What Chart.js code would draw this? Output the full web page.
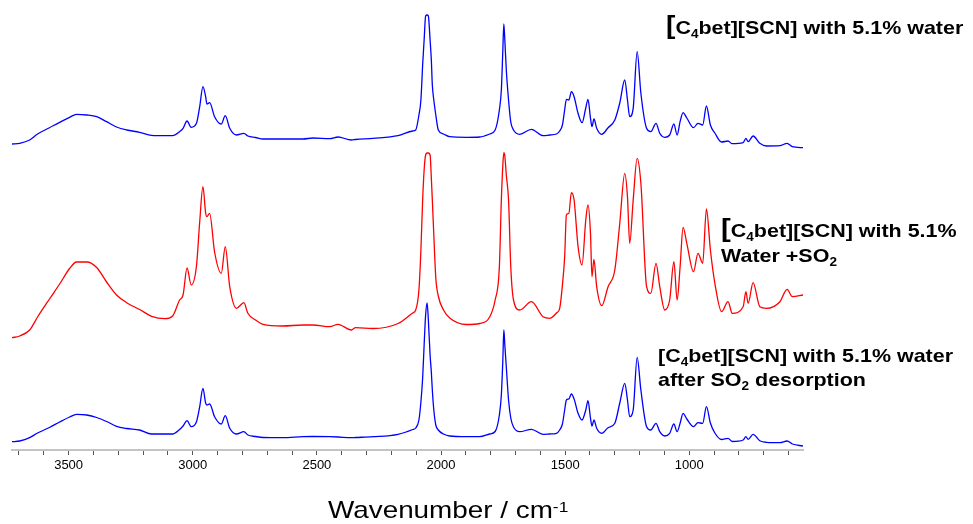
<!DOCTYPE html>
<html><head><meta charset="utf-8">
<script src="https://cdn.jsdelivr.net/npm/chart.js@4.4.1/dist/chart.umd.min.js"></script>
<style>html,body{margin:0;padding:0;background:#fff;}canvas{display:block;}</style>
</head><body>
<canvas id="c" width="973" height="524"></canvas>
<script>
// Wavenumber grid (cm-1), shared by all three spectra
const wavenumbers = [3728,3697,3657,3625,3577,3536,3496,3468,3427,3387,
 3347,3307,3266,3214,3166,3113,3081,3053,3039,3023,
 3006,2985,2972,2959,2948,2943,2932,2912,2885,2869,
 2851,2824,2794,2778,2747,2717,2638,2556,2516,2448,
 2415,2361,2344,2274,2173,2114,2102,2089,2081,2074,
 2068,2062,2056,2051,2044,2039,2035,2029,2021,2011,
 1990,1965,1898,1844,1804,1782,1765,1757,1751,1747,
 1743,1737,1728,1719,1708,1683,1636,1589,1562,1535,
 1522,1511,1502,1495,1485,1475,1464,1448,1432,1417,
 1408,1398,1392,1384,1373,1353,1327,1300,1280,1260,
 1249,1240,1226,1210,1195,1172,1155,1134,1119,1099,
 1079,1062,1049,1037,1025,1010,983,965,946,931,
 915,897,870,844,827,783,772,763,743,716,
 689,635,606,585,542];

// Stacked absorbance (a.u., with vertical offsets as plotted)
const waterTrace = [3.06,3.067,3.10,3.16,3.223,3.277,3.327,3.357,3.35,3.333,
 3.283,3.23,3.20,3.177,3.147,3.143,3.143,3.183,3.217,3.29,
 3.227,3.267,3.433,3.633,3.533,3.46,3.473,3.333,3.26,3.343,
 3.217,3.15,3.167,3.14,3.125,3.11,3.11,3.11,3.12,3.113,
 3.13,3.10,3.105,3.117,3.143,3.19,3.20,3.35,3.50,3.85,
 4.10,4.34,4.35,4.34,4.10,3.90,3.65,3.50,3.35,3.20,
 3.16,3.133,3.127,3.13,3.16,3.20,3.40,3.60,4.00,4.26,
 4.10,3.80,3.50,3.28,3.20,3.157,3.207,3.143,3.15,3.16,
 3.19,3.25,3.40,3.507,3.50,3.583,3.533,3.367,3.273,3.42,
 3.507,3.32,3.233,3.31,3.217,3.157,3.223,3.30,3.47,3.70,
 3.50,3.333,3.417,3.983,3.567,3.217,3.183,3.267,3.167,3.127,
 3.15,3.26,3.15,3.283,3.373,3.32,3.223,3.267,3.25,3.44,
 3.25,3.17,3.08,3.09,3.063,3.073,3.117,3.083,3.14,3.067,
 3.04,3.043,3.067,3.033,3.023];

const so2Trace = [1.123,1.14,1.20,1.33,1.51,1.66,1.815,1.88,1.88,1.825,
 1.68,1.55,1.473,1.405,1.337,1.313,1.34,1.50,1.55,1.82,
 1.65,1.84,2.28,2.633,2.37,2.333,2.367,1.98,1.767,2.033,
 1.633,1.417,1.473,1.367,1.30,1.257,1.24,1.25,1.25,1.233,
 1.257,1.20,1.223,1.215,1.265,1.37,1.40,1.60,2.00,2.50,
 2.80,2.95,2.97,2.97,2.95,2.72,2.50,2.15,1.72,1.54,
 1.40,1.32,1.255,1.265,1.33,1.50,1.83,2.50,2.85,2.973,
 2.94,2.75,2.50,1.83,1.50,1.40,1.483,1.333,1.317,1.37,
 1.417,1.65,1.933,2.35,2.367,2.573,2.50,2.033,1.85,2.30,
 2.45,2.167,1.733,1.907,1.633,1.443,1.633,1.80,2.267,2.767,
 2.533,2.067,2.50,2.917,2.667,1.633,1.567,1.867,1.633,1.40,
 1.50,1.883,1.50,1.833,2.227,2.067,1.783,1.967,1.867,2.41,
 2.00,1.667,1.383,1.483,1.367,1.433,1.583,1.467,1.673,1.433,
 1.417,1.483,1.607,1.533,1.55];

const desorbTrace = [0.083,0.09,0.123,0.17,0.225,0.28,0.33,0.357,0.35,0.325,
 0.285,0.237,0.215,0.20,0.16,0.16,0.16,0.205,0.24,0.293,
 0.233,0.283,0.433,0.617,0.47,0.45,0.46,0.333,0.26,0.343,
 0.217,0.16,0.183,0.15,0.135,0.125,0.123,0.133,0.135,0.133,
 0.13,0.123,0.125,0.133,0.157,0.205,0.22,0.30,0.48,0.72,
 1.05,1.35,1.47,1.30,0.95,0.78,0.60,0.40,0.25,0.20,
 0.16,0.14,0.133,0.133,0.16,0.185,0.35,0.55,0.90,1.20,
 1.05,0.83,0.50,0.32,0.23,0.183,0.207,0.157,0.16,0.167,
 0.20,0.26,0.40,0.50,0.51,0.56,0.51,0.367,0.30,0.40,
 0.493,0.32,0.24,0.30,0.217,0.167,0.223,0.267,0.47,0.667,
 0.50,0.333,0.40,0.927,0.60,0.233,0.20,0.267,0.183,0.14,
 0.167,0.26,0.183,0.267,0.367,0.31,0.233,0.273,0.267,0.433,
 0.27,0.17,0.105,0.117,0.085,0.10,0.133,0.107,0.157,0.093,
 0.077,0.073,0.09,0.06,0.04];

const tickLabels = [3500, 3000, 2500, 2000, 1500, 1000];
const seriesNames = ['[C4bet][SCN] with 5.1% water', '[C4bet][SCN] with 5.1% Water +SO2', '[C4bet][SCN] with 5.1% water after SO2 desorption'];
const seriesColors = ['#0000ff', '#ff0000', '#0000ff'];
const allTraces = [waterTrace, so2Trace, desorbTrace];

const FONT = '"Liberation Sans", Arial, Helvetica, sans-serif';
function drawRich(ctx, x, y, parts, sx) {
  ctx.save();
  ctx.translate(x, y);
  ctx.scale(sx, 1);
  ctx.fillStyle = '#000';
  ctx.textBaseline = 'alphabetic';
  ctx.textAlign = 'left';
  let cx = 0;
  for (const p of parts) {
    ctx.font = (p.w || 'bold') + ' ' + p.s + 'px ' + FONT;
    ctx.fillText(p.t, cx, p.dy || 0);
    cx += ctx.measureText(p.t).width;
  }
  ctx.restore();
}

const textPlugin = {
  id: 'texts',
  afterDraw(chart) {
    const ctx = chart.ctx;
    const S = 19, SUB = 12, SX = 1.13;
    drawRich(ctx, 666, 34, [{t:'[', s:25}, {t:'C', s:S}, {t:'4', s:SUB, dy:4}, {t:'bet][SCN] with 5.1% water', s:S}], SX);
    drawRich(ctx, 721, 237, [{t:'[', s:26}, {t:'C', s:S}, {t:'4', s:SUB, dy:4}, {t:'bet][SCN] with 5.1%', s:S}], SX);
    drawRich(ctx, 721, 262, [{t:'Water +SO', s:S}, {t:'2', s:SUB, dy:4}], SX);
    drawRich(ctx, 658, 362, [{t:'[C', s:S}, {t:'4', s:SUB, dy:4}, {t:'bet][SCN] with 5.1% water', s:S}], SX);
    drawRich(ctx, 658, 386, [{t:'after SO', s:S}, {t:'2', s:SUB, dy:4}, {t:' desorption', s:S}], SX);
    drawRich(ctx, 328, 518, [{t:'Wavenumber / cm', s:24, w:'normal'}, {t:'-1', s:15, dy:-6, w:'normal'}], 1.16);
  }
};

const datasets = allTraces.map((tr, k) => ({
  label: seriesNames[k],
  data: wavenumbers.map((w, i) => ({x: w, y: tr[i]})),
  borderColor: seriesColors[k],
  backgroundColor: seriesColors[k],
  borderWidth: 1.3,
  borderJoinStyle: 'round',
  pointRadius: 0,
  cubicInterpolationMode: 'monotone',
  fill: false
}));

new Chart(document.getElementById('c'), {
  type: 'line',
  data: { datasets },
  options: {
    responsive: false,
    animation: false,
    layout: { padding: { left: 12, right: 170, top: 0, bottom: 0 } },
    plugins: { legend: { display: false }, tooltip: { enabled: false }, title: { display: false } },
    scales: {
      x: {
        type: 'linear',
        reverse: true,
        min: 542,
        max: 3728,
        afterFit(axis) { axis.height = 74; },
        border: { display: true, color: '#c4c4c4', width: 2 },
        grid: { drawOnChartArea: false, drawTicks: true, tickLength: 5, tickColor: '#555', tickWidth: 1 },
        ticks: {
          stepSize: 100,
          autoSkip: false,
          includeBounds: false,
          maxTicksLimit: 100,
          maxRotation: 0,
          minRotation: 0,
          padding: 3,
          color: '#000',
          font: { family: FONT, size: 13 },
          callback: v => tickLabels.includes(v) ? String(v) : ''
        }
      },
      y: { display: false, min: 0, max: 4.5 }
    }
  },
  plugins: [textPlugin]
});
</script>
</body></html>
